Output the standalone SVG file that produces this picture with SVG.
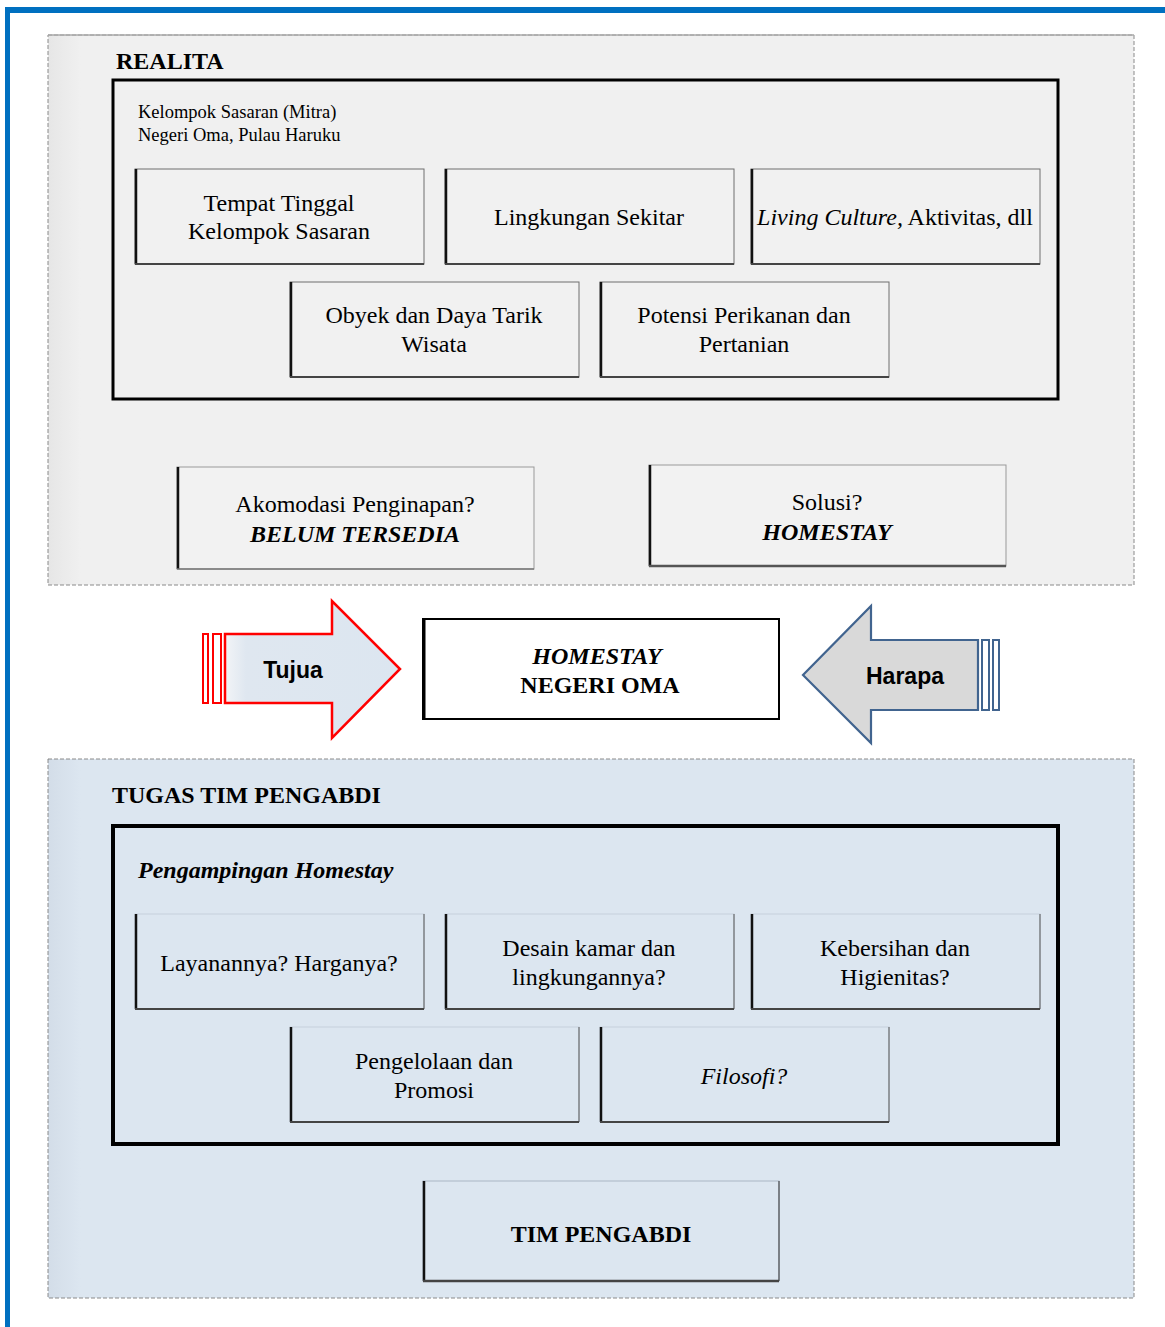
<svg xmlns="http://www.w3.org/2000/svg" width="1165" height="1327" viewBox="0 0 1165 1327">
<style>
.t{font-family:"Liberation Serif","Times New Roman",serif;fill:#000}
.c{text-anchor:middle}
.b22{font-size:24px}
.s17{font-size:18.5px}
.hd{font-size:24px;font-weight:bold}
.bi{font-weight:bold;font-style:italic}
.box{stroke:#6e6e6e;stroke-width:1}
.lft{stroke:#111;stroke-width:2.5}
.bot{stroke:#444;stroke-width:2}
.panel{stroke:#8a8a8a;stroke-width:1;stroke-dasharray:4 2}
.ar{font-family:"Liberation Sans",Arial,sans-serif;font-weight:bold;font-size:23px;text-anchor:middle}
</style>
<defs>
<linearGradient id="gTop" x1="0" x2="1" y1="0" y2="0">
<stop offset="0" stop-color="#e6e6e6"/><stop offset="0.03" stop-color="#f0f0f0"/><stop offset="1" stop-color="#f0f0f0"/>
</linearGradient>
<linearGradient id="gBot" x1="0" x2="1" y1="0" y2="0">
<stop offset="0" stop-color="#d3dde8"/><stop offset="0.03" stop-color="#dce6f0"/><stop offset="1" stop-color="#dce6f0"/>
</linearGradient>
<linearGradient id="gTuj" x1="0" x2="1" y1="0" y2="0">
<stop offset="0" stop-color="#f2f4f7"/><stop offset="0.12" stop-color="#dfe7f0"/><stop offset="1" stop-color="#dce6f0"/>
</linearGradient>
</defs>

<!-- page border -->
<rect x="5" y="7" width="1160" height="6" fill="#0070c0"/>
<rect x="5" y="7" width="5" height="1320" fill="#0070c0"/>

<!-- top panel -->
<g id="panel-realita">
<rect x="48" y="35" width="1086" height="550" fill="url(#gTop)" class="panel"/>
<line x1="48" y1="35" x2="1134" y2="35" stroke="#aaa" stroke-width="1.5"/>
<text x="116" y="69" class="t hd">REALITA</text>
</g>

<g id="kelompok">
<rect x="113" y="80" width="945" height="319" fill="#f0f0f0" stroke="#000" stroke-width="3"/>
<text x="138" y="118" class="t s17">Kelompok Sasaran (Mitra)</text>
<text x="138" y="141" class="t s17">Negeri Oma, Pulau Haruku</text>
</g>

<g id="n-tempat">
<rect x="135" y="169" width="289" height="95" fill="#f1f1f1" class="box"/>
<line x1="136" y1="169" x2="136" y2="264" class="lft"/><line x1="135" y1="264" x2="424" y2="264" class="bot"/>
<text x="279" y="211" class="t b22 c">Tempat Tinggal</text>
<text x="279" y="239" class="t b22 c">Kelompok Sasaran</text>
</g>
<g id="n-lingkungan">
<rect x="445" y="169" width="289" height="95" fill="#f1f1f1" class="box"/>
<line x1="446" y1="169" x2="446" y2="264" class="lft"/><line x1="445" y1="264" x2="734" y2="264" class="bot"/>
<text x="589" y="225" class="t b22 c">Lingkungan Sekitar</text>
</g>
<g id="n-living">
<rect x="751" y="169" width="289" height="95" fill="#f1f1f1" class="box"/>
<line x1="752" y1="169" x2="752" y2="264" class="lft"/><line x1="751" y1="264" x2="1040" y2="264" class="bot"/>
<text x="895" y="225" class="t b22 c"><tspan font-style="italic">Living Culture,</tspan> Aktivitas, dll</text>
</g>
<g id="n-obyek">
<rect x="290" y="282" width="289" height="95" fill="#f1f1f1" class="box"/>
<line x1="291" y1="282" x2="291" y2="377" class="lft"/><line x1="290" y1="377" x2="579" y2="377" class="bot"/>
<text x="434" y="323" class="t b22 c">Obyek dan Daya Tarik</text>
<text x="434" y="352" class="t b22 c">Wisata</text>
</g>
<g id="n-potensi">
<rect x="600" y="282" width="289" height="95" fill="#f1f1f1" class="box"/>
<line x1="601" y1="282" x2="601" y2="377" class="lft"/><line x1="600" y1="377" x2="889" y2="377" class="bot"/>
<text x="744" y="323" class="t b22 c">Potensi Perikanan dan</text>
<text x="744" y="352" class="t b22 c">Pertanian</text>
</g>

<g id="n-akomodasi">
<rect x="177" y="467" width="357" height="102" fill="#f2f2f2" stroke="#999" stroke-width="1"/>
<line x1="178" y1="467" x2="178" y2="569" class="lft"/><line x1="177" y1="569" x2="534" y2="569" stroke="#777" stroke-width="1.5"/>
<text x="355" y="512" class="t b22 c">Akomodasi Penginapan?</text>
<text x="355" y="542" class="t b22 c bi">BELUM TERSEDIA</text>
</g>
<g id="n-solusi">
<rect x="649" y="465" width="357" height="101" fill="#f2f2f2" stroke="#999" stroke-width="1"/>
<line x1="650" y1="465" x2="650" y2="566" class="lft"/><line x1="649" y1="566" x2="1006" y2="566" stroke="#555" stroke-width="2.5"/>
<text x="827" y="510" class="t b22 c">Solusi?</text>
<text x="827" y="540" class="t b22 c bi">HOMESTAY</text>
</g>

<!-- middle -->
<g id="n-homestay">
<rect x="423" y="619" width="356" height="100" fill="#fff" stroke="#000" stroke-width="2"/>
<line x1="424" y1="619" x2="424" y2="719" stroke="#000" stroke-width="3"/>
<text x="597" y="664" class="t b22 c bi">HOMESTAY</text>
<text x="600" y="693" class="t b22 c" font-weight="bold">NEGERI OMA</text>
</g>

<g id="n-tujua">
<rect x="203" y="634" width="5" height="69" fill="#fff" stroke="#ff0000" stroke-width="2"/>
<rect x="213" y="634" width="8" height="69" fill="#fff" stroke="#ff0000" stroke-width="2"/>
<path d="M225,634 H332 V601 L400,669 L332,738 V703 H225 Z" fill="url(#gTuj)" stroke="#ff0000" stroke-width="2.5" stroke-linejoin="miter"/>
<text x="293" y="678" class="ar">Tujua</text>
</g>

<g id="n-harapa">
<rect x="982" y="640" width="7" height="70" fill="#fff" stroke="#41648f" stroke-width="2"/>
<rect x="993" y="640" width="6" height="70" fill="#fff" stroke="#41648f" stroke-width="2"/>
<path d="M978,640 H871 V606 L803,675 L871,743 V710 H978 Z" fill="#d9d9d9" stroke="#41648f" stroke-width="2.2"/>
<text x="905" y="684" class="ar">Harapa</text>
</g>

<!-- bottom panel -->
<g id="panel-tugas">
<rect x="48" y="759" width="1086" height="539" fill="url(#gBot)" class="panel"/>
<text x="112" y="803" class="t hd">TUGAS TIM PENGABDI</text>
</g>

<g id="pendampingan">
<rect x="113" y="826" width="945" height="318" fill="#dce6f0" stroke="#000" stroke-width="4"/>
<text x="138" y="878" class="t b22 bi">Pengampingan Homestay</text>
</g>

<g id="n-layanan">
<rect x="135" y="914" width="289" height="95" fill="#dce6f0" stroke="#c5d0dc" stroke-width="1"/>
<line x1="424" y1="914" x2="424" y2="1009" stroke="#555" stroke-width="1"/>
<line x1="136" y1="914" x2="136" y2="1009" class="lft"/><line x1="135" y1="1009" x2="424" y2="1009" class="bot"/>
<text x="279" y="971" class="t b22 c">Layanannya? Harganya?</text>
</g>
<g id="n-desain">
<rect x="445" y="914" width="289" height="95" fill="#dce6f0" stroke="#c5d0dc" stroke-width="1"/>
<line x1="734" y1="914" x2="734" y2="1009" stroke="#555" stroke-width="1"/>
<line x1="446" y1="914" x2="446" y2="1009" class="lft"/><line x1="445" y1="1009" x2="734" y2="1009" class="bot"/>
<text x="589" y="956" class="t b22 c">Desain kamar dan</text>
<text x="589" y="985" class="t b22 c">lingkungannya?</text>
</g>
<g id="n-kebersihan">
<rect x="751" y="914" width="289" height="95" fill="#dce6f0" stroke="#c5d0dc" stroke-width="1"/>
<line x1="1040" y1="914" x2="1040" y2="1009" stroke="#555" stroke-width="1"/>
<line x1="752" y1="914" x2="752" y2="1009" class="lft"/><line x1="751" y1="1009" x2="1040" y2="1009" class="bot"/>
<text x="895" y="956" class="t b22 c">Kebersihan dan</text>
<text x="895" y="985" class="t b22 c">Higienitas?</text>
</g>
<g id="n-pengelolaan">
<rect x="290" y="1027" width="289" height="95" fill="#dce6f0" stroke="#c5d0dc" stroke-width="1"/>
<line x1="579" y1="1027" x2="579" y2="1122" stroke="#555" stroke-width="1"/>
<line x1="291" y1="1027" x2="291" y2="1122" class="lft"/><line x1="290" y1="1122" x2="579" y2="1122" class="bot"/>
<text x="434" y="1069" class="t b22 c">Pengelolaan dan</text>
<text x="434" y="1098" class="t b22 c">Promosi</text>
</g>
<g id="n-filosofi">
<rect x="600" y="1027" width="289" height="95" fill="#dce6f0" stroke="#c5d0dc" stroke-width="1"/>
<line x1="889" y1="1027" x2="889" y2="1122" stroke="#555" stroke-width="1"/>
<line x1="601" y1="1027" x2="601" y2="1122" class="lft"/><line x1="600" y1="1122" x2="889" y2="1122" class="bot"/>
<text x="744" y="1084" class="t b22 c" font-style="italic">Filosofi?</text>
</g>

<g id="n-tim">
<rect x="423" y="1181" width="356" height="100" fill="#dce6f0" stroke="#aab6c4" stroke-width="1"/>
<line x1="779" y1="1181" x2="779" y2="1281" stroke="#333" stroke-width="1"/>
<line x1="424" y1="1181" x2="424" y2="1281" class="lft"/><line x1="423" y1="1281" x2="779" y2="1281" stroke="#444" stroke-width="2.5"/>
<text x="601" y="1242" class="t b22 c" font-weight="bold">TIM PENGABDI</text>
</g>

<g id="connectors"></g>
</svg>
